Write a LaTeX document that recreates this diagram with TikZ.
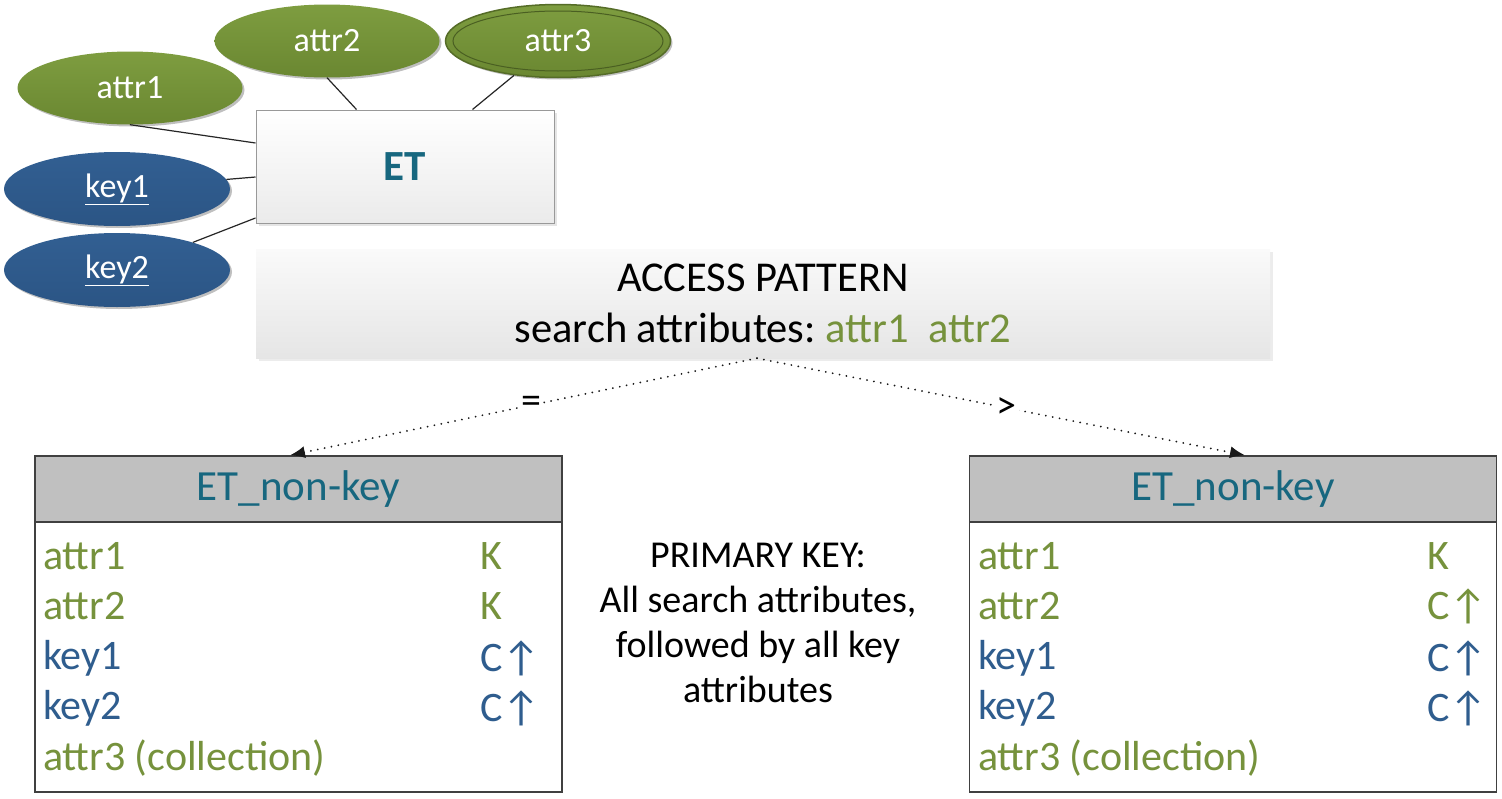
\documentclass[tikz,border=0pt]{standalone}
\usepackage{fontspec}
\setmainfont{Carlito}
\usetikzlibrary{shapes.geometric,shadows,arrows.meta}
\frenchspacing
\definecolor{olivetxt}{HTML}{76923C}
\definecolor{bluetxt}{HTML}{2F5D8E}
\definecolor{tealtxt}{HTML}{17677F}
\definecolor{greenA}{HTML}{7E9D40}
\definecolor{greenB}{HTML}{6A8731}
\definecolor{blueA}{HTML}{325F92}
\definecolor{blueB}{HTML}{2B5585}
\definecolor{hdrgray}{HTML}{C0C0C0}
\definecolor{tblline}{HTML}{404040}
\tikzset{
  shade/.style={drop shadow={shadow xshift=2pt,shadow yshift=-2pt,opacity=0.25,fill=black}},
  greenell/.style={ellipse, minimum width=225pt, minimum height=73pt, top color=greenA, bottom color=greenB, draw=none, text=white, font=\fontsize{34}{40}\selectfont, shade},
  blueell/.style={ellipse, minimum width=226pt, minimum height=74pt, top color=blueA, bottom color=blueB, draw=none, text=white, font=\fontsize{34}{40}\selectfont, shade},
  link/.style={draw=black!85, line width=1.2pt},
  hdr/.style={rectangle, minimum width=527pt, minimum height=66pt, fill=hdrgray, draw=tblline, line width=1.5pt, text=tealtxt, font=\fontsize{43}{50}\selectfont, inner sep=0pt},
  tbody/.style={rectangle, minimum width=527pt, minimum height=270pt, fill=white, draw=tblline, line width=1.5pt, inner sep=0pt},
  rowtxt/.style={anchor=west, inner sep=0pt, font=\fontsize{42}{49}\selectfont},
  dotarrow/.style={draw=black!90, line width=2pt, dash pattern=on 0.01pt off 7pt, line cap=round, -{Latex[length=15pt,width=12pt]}},
  lbl/.style={fill=white, inner sep=2pt, font=\fontsize{40}{44}\selectfont}
}
\begin{document}
\begin{tikzpicture}[x=1pt,y=-1pt]
\useasboundingbox[fill=white] (0,0) rectangle (1502,798);

% ER part
\node[rectangle, minimum width=298pt, minimum height=113pt, top color=white, bottom color=black!8, draw=black!40, line width=1pt, drop shadow={shadow xshift=3pt,shadow yshift=-3pt,opacity=0.2}, text=tealtxt, font=\fontsize{43}{50}\selectfont\bfseries] (et) at (405,166.5) {ET};

\node[greenell] (a1) at (130,88) {attr1};
\node[greenell] (a2) at (327,41) {attr2};
\node[greenell, draw=greenB!80!black, line width=1.5pt] (a3) at (558,41) {attr3};
\draw[greenB!70!black, line width=1pt] (a3.center) ellipse [x radius=105pt, y radius=30pt];
\node[blueell] (k1) at (117,189) {\underline{key1}};
\node[blueell] (k2) at (117,270) {\underline{key2}};

\draw[link] (a1.south) -- ([yshift=23.5pt]et.west);
\draw[link] (a2.south) -- ([xshift=101pt]et.north west);
\draw[link] (a3.218) -- ([xshift=217pt]et.north west);
\draw[link] (k1.5) -- ([yshift=-10.5pt]et.west);
\draw[link] (k2.20.5) -- ([yshift=-51.5pt]et.west);

% access pattern
\node[rectangle, minimum width=1014pt, minimum height=109pt, top color=black!2, bottom color=black!10, draw=none, drop shadow={shadow xshift=3pt,shadow yshift=-3pt,opacity=0.15}, align=center, font=\fontsize{42.5}{51}\selectfont] (acc) at (763,303.5) {ACCESS PATTERN\\search attributes: \textcolor{olivetxt}{attr1\ \ attr2}};

% tables
\node[tbody] (t1b) at (298.5,657) {};
\node[hdr] (t1) at (298.5,489) {ET\_non-key};
\node[tbody] (t2b) at (1233,657) {};
\node[hdr] (t2) at (1233,489) {ET\_non-key};

\draw[dotarrow] ([xshift=-6pt]acc.south) -- node[lbl, pos=0.484] (eq) {=} ([xshift=-8.5pt]t1.north);
\draw[dotarrow] ([xshift=-6pt]acc.south) -- node[lbl, pos=0.512] (gt) {>} ([xshift=12pt]t2.north);

% left table rows
\node[rowtxt, text=olivetxt] (l1) at (43,556) {attr1};
\node[rowtxt, text=olivetxt] (l2) at (43,606) {attr2};
\node[rowtxt, text=bluetxt] (l3) at (43,658) {key1};
\node[rowtxt, text=bluetxt] (l4) at (43,708) {key2};
\node[rowtxt, text=olivetxt] (l5) at (43,758) {attr3 (collection)};
\node[rowtxt, text=olivetxt] (lk1) at (480,556) {K};
\node[rowtxt, text=olivetxt] (lk2) at (480,606) {K};
\node[rowtxt, text=bluetxt] (lk3) at (480,658) {C↑};
\node[rowtxt, text=bluetxt] (lk4) at (480,708) {C↑};

% right table rows
\node[rowtxt, text=olivetxt] (r1) at (978,556) {attr1};
\node[rowtxt, text=olivetxt] (r2) at (978,606) {attr2};
\node[rowtxt, text=bluetxt] (r3) at (978,658) {key1};
\node[rowtxt, text=bluetxt] (r4) at (978,708) {key2};
\node[rowtxt, text=olivetxt] (r5) at (978,758) {attr3 (collection)};
\node[rowtxt, text=olivetxt] (rk1) at (1427,556) {K};
\node[rowtxt, text=olivetxt] (rk2) at (1427,606) {C↑};
\node[rowtxt, text=bluetxt] (rk3) at (1427,658) {C↑};
\node[rowtxt, text=bluetxt] (rk4) at (1427,708) {C↑};

% middle note
\node[align=center, font=\fontsize{38}{45}\selectfont] (pk) at (758,623) {PRIMARY KEY:\\All search attributes,\\followed by all key\\attributes};
\end{tikzpicture}
\end{document}
